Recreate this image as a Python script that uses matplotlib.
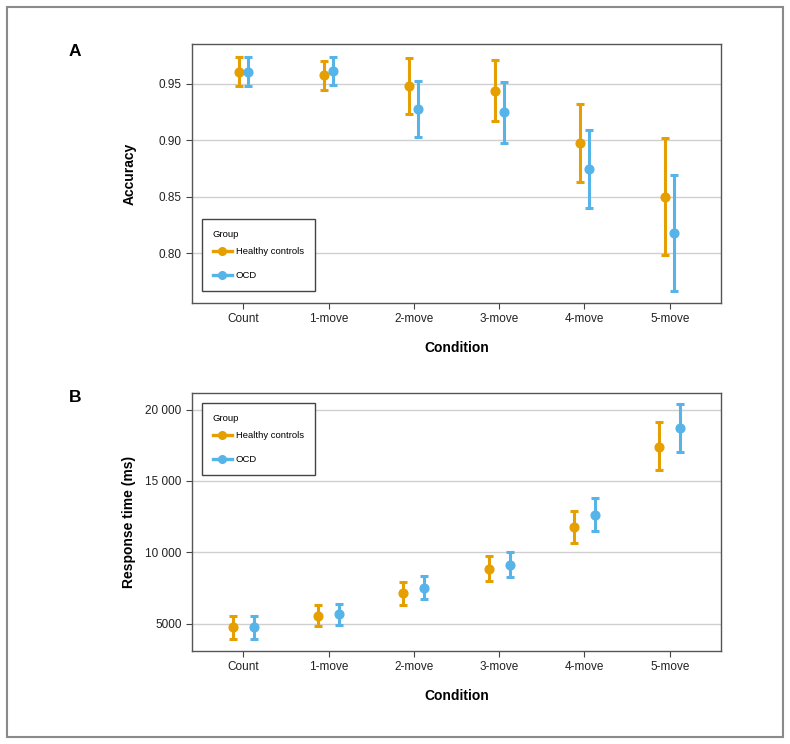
import matplotlib
matplotlib.use("Agg")
import matplotlib.pyplot as plt
from matplotlib.lines import Line2D
from matplotlib.patches import Rectangle
import numpy as np

plt.rcParams["font.family"] = ["Liberation Sans", "DejaVu Sans"]

conditions = ["Count", "1-move", "2-move", "3-move", "4-move", "5-move"]
groups = ["Healthy controls", "OCD"]
colors = ["#E69F00", "#56B4E9"]

# accuracy: mean, lower, upper
acc_hc = [0.961, 0.958, 0.948, 0.944, 0.8975, 0.850]
acc_hc_lo = [0.948, 0.945, 0.9235, 0.917, 0.863, 0.7987]
acc_hc_hi = [0.974, 0.970, 0.973, 0.971, 0.932, 0.902]
acc_ocd = [0.961, 0.9615, 0.928, 0.925, 0.8745, 0.818]
acc_ocd_lo = [0.948, 0.949, 0.903, 0.898, 0.840, 0.766]
acc_ocd_hi = [0.974, 0.9736, 0.953, 0.952, 0.909, 0.8695]

# response time (ms): mean, lower, upper
rt_hc = [4740, 5560, 7130, 8830, 11780, 17400]
rt_hc_lo = [3920, 4810, 6310, 7950, 10640, 15760]
rt_hc_hi = [5510, 6290, 7920, 9730, 12900, 19110]
rt_ocd = [4740, 5650, 7500, 9140, 12620, 18710]
rt_ocd_lo = [3940, 4880, 6710, 8230, 11480, 17050]
rt_ocd_hi = [5510, 6400, 8300, 10050, 13800, 20400]

W, H = 790, 744
fig = plt.figure(figsize=(W / 100, H / 100), dpi=100)
fig.patches.append(Rectangle((7 / W, 1 - 737 / H), 776 / W, 730 / H,
                             transform=fig.transFigure, fill=False,
                             edgecolor="#8a8a8a", lw=1.5))


def ax_rect(left, top, right, bottom):
    return [left / W, 1 - bottom / H, (right - left) / W, (bottom - top) / H]


def draw_panel(ax, data, dodge, ylim, yticks, yticklabels, ylabel, legend_top):
    x = np.arange(len(conditions))
    for i, (mean, lo, hi) in enumerate(data):
        mean = np.array(mean)
        err = [mean - np.array(lo), np.array(hi) - mean]
        off = -dodge if i == 0 else dodge
        ax.errorbar(x + off, mean, yerr=err, fmt="o", color=colors[i],
                    ms=6.3, elinewidth=2.2, capsize=2.9, capthick=2.2, zorder=3)
    ax.set_xlim(-0.6, 5.6)
    ax.set_ylim(*ylim)
    ax.set_xticks(x)
    ax.set_xticklabels(conditions, fontsize=8.5, color="#222222")
    ax.set_yticks(yticks)
    ax.set_yticklabels(yticklabels, fontsize=8.5, color="#222222")
    ax.tick_params(length=4, width=0.8, color="#444444")
    ax.yaxis.grid(True, color="#cfcfcf", lw=1)
    ax.set_axisbelow(True)
    for s in ax.spines.values():
        s.set_color("#555555")
        s.set_linewidth(1)
    ax.set_xlabel("Condition", fontsize=10, fontweight="bold", labelpad=11)
    ax.set_ylabel(ylabel, fontsize=10, fontweight="bold")
    ax.yaxis.set_label_coords(-0.105, 0.5)
    handles = [Line2D([], [], color=c, marker="o", ms=5.5, lw=2.4) for c in colors]
    leg = ax.legend(handles, groups, title="Group", loc="upper left",
                    bbox_to_anchor=(202 / W, 1 - legend_top / H),
                    bbox_transform=fig.transFigure, fontsize=6.8,
                    title_fontsize=6.8, alignment="left", fancybox=False,
                    framealpha=1, edgecolor="#444444", borderpad=1.15,
                    labelspacing=1.55, handlelength=2.0, handletextpad=0.4,
                    borderaxespad=0)
    # tighter gap between the title and the first entry
    leg._legend_box.sep = 0.9 * 6.8
    leg.get_frame().set_linewidth(1)
    leg.set_zorder(5)


axA = fig.add_axes(ax_rect(192, 44, 721, 303))
draw_panel(axA,
           [(acc_hc, acc_hc_lo, acc_hc_hi), (acc_ocd, acc_ocd_lo, acc_ocd_hi)],
           0.053, (0.7558, 0.9854), [0.80, 0.85, 0.90, 0.95],
           ["0.80", "0.85", "0.90", "0.95"], "Accuracy", 219)

axB = fig.add_axes(ax_rect(192, 393, 721, 651))
draw_panel(axB,
           [(rt_hc, rt_hc_lo, rt_hc_hi), (rt_ocd, rt_ocd_lo, rt_ocd_hi)],
           0.123, (3076, 21166), [5000, 10000, 15000, 20000],
           ["5000", "10 000", "15 000", "20 000"], "Response time (ms)", 403)

fig.text(75 / W, 1 - 52 / H, "A", fontsize=12.5, fontweight="bold", ha="center", va="center")
fig.text(75 / W, 1 - 397 / H, "B", fontsize=12.5, fontweight="bold", ha="center", va="center")

fig.savefig("out.png", dpi=100)
